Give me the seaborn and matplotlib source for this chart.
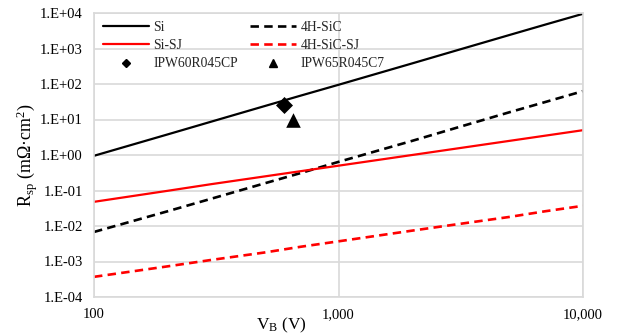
import numpy as np
import pandas as pd
import matplotlib
matplotlib.use("Agg")
import matplotlib.pyplot as plt
from matplotlib.ticker import FuncFormatter, FixedLocator, NullLocator
from matplotlib.lines import Line2D
import seaborn as sns

# Breakdown voltage (V) and specific on-resistance (mOhm*cm^2) per technology
volts = [100, 200, 300, 500, 700, 1000, 2000, 3000, 5000, 7000, 10000]
r_si = [0.95, 3.8, 8.6, 24, 47, 95, 380, 860, 2400, 4700, 9500]
r_sic = [0.0068, 0.026, 0.058, 0.16, 0.31, 0.64, 2.5, 5.7, 16, 31, 63]
r_si_sj = [0.048, 0.098, 0.15, 0.25, 0.35, 0.5, 1.0, 1.5, 2.5, 3.5, 5.0]
r_sic_sj = [0.00037, 0.00073, 0.0011, 0.0018, 0.0026, 0.0037, 0.0074, 0.011, 0.018, 0.026, 0.037]

# Commercial devices
dev_names = ["IPW60R045CP", "IPW65R045C7"]
dev_volts = [600, 650]
dev_rsp = [25, 10]

x_ticks = [100, 1000, 10000]
y_ticks = [1e-4, 1e-3, 1e-2, 1e-1, 1e0, 1e1, 1e2, 1e3, 1e4]

sns.set_theme(style="white")
plt.rcParams["font.family"] = ["Liberation Serif", "DejaVu Serif"]
plt.rcParams["mathtext.fontset"] = "custom"
plt.rcParams["mathtext.rm"] = "Liberation Serif"
plt.rcParams["mathtext.it"] = "Liberation Serif"

fig = plt.figure(figsize=(6.18, 3.36), dpi=100)
ax = fig.add_axes([94 / 618, 1 - 297 / 336, 489 / 618, 284 / 336])

df = pd.DataFrame({
    "V": volts * 4,
    "R": r_si + r_sic + r_si_sj + r_sic_sj,
    "tech": ["Si"] * 11 + ["4H-SiC"] * 11 + ["Si-SJ"] * 11 + ["4H-SiC-SJ"] * 11,
})

styles = {
    "Si": ("black", "-"),
    "4H-SiC": ("black", "--"),
    "Si-SJ": ("#ff0000", "-"),
    "4H-SiC-SJ": ("#ff0000", "--"),
}
dash = (3.2, 2.0)
handles = {}
for name, (col, ls) in styles.items():
    sub = df[df["tech"] == name]
    lw = 1.6 if ls == "-" else 1.9
    sns.lineplot(data=sub, x="V", y="R", ax=ax, color=col, linewidth=lw,
                 legend=False, sort=True, estimator=None)
    line = ax.lines[-1]
    h = Line2D([], [], color=col, linewidth=lw)
    if ls == "--":
        line.set_dashes(dash)
        h.set_dashes(dash)
    handles[name] = h

dev_df = pd.DataFrame({"V": dev_volts, "R": dev_rsp, "dev": dev_names})
sns.scatterplot(data=dev_df.iloc[[0]], x="V", y="R", ax=ax, marker="D", s=75,
                color="black", edgecolor="black", linewidth=0, legend=False, zorder=5)
sns.scatterplot(data=dev_df.iloc[[1]], x="V", y="R", ax=ax, marker="^", s=110,
                color="black", edgecolor="black", linewidth=0, legend=False, zorder=5)
handles[dev_names[0]] = Line2D([], [], color="black", marker="D", linestyle="none", markersize=4.5)
handles[dev_names[1]] = Line2D([], [], color="black", marker="^", linestyle="none", markersize=5.5)

ax.set_xscale("log")
ax.set_yscale("log")
ax.set_xlim(100, 10000)
ax.set_ylim(1e-4, 1e4)
ax.xaxis.set_major_locator(FixedLocator(x_ticks))
ax.yaxis.set_major_locator(FixedLocator(y_ticks))
ax.xaxis.set_minor_locator(NullLocator())
ax.yaxis.set_minor_locator(NullLocator())
ax.xaxis.set_major_formatter(FuncFormatter(lambda v, p: f"{int(round(v)):,}"))
ax.yaxis.set_major_formatter(FuncFormatter(lambda v, p: "1.E{:+03d}".format(int(round(np.log10(v))))))
ax.tick_params(axis="both", length=0, labelsize=10.5, colors="black")
ax.tick_params(axis="y", pad=8)
ax.tick_params(axis="x", pad=8)

grid_col = "#d9d9d9"
ax.grid(True, which="major", color=grid_col, linewidth=1.2)
ax.set_axisbelow(True)
for s in ax.spines.values():
    s.set_color(grid_col)
    s.set_linewidth(1.2)

ax.set_xlabel(r"V$_\mathrm{B}$ (V)", fontsize=12.5, color="black")
ax.xaxis.set_label_coords(0.383, -0.066)
ax.set_ylabel(r"R$_\mathrm{sp}$ (m$\Omega$·cm$^2$)", fontsize=13, color="black")
ax.yaxis.set_label_coords(-0.11, 0.5)

order = ["Si", "Si-SJ", dev_names[0], "4H-SiC", "4H-SiC-SJ", dev_names[1]]
ax.legend([handles[k] for k in order], order, ncol=2, frameon=False, fontsize=9.8,
          loc="upper left", bbox_to_anchor=(-0.004, 1.01), handlelength=3.4,
          handletextpad=0.3, columnspacing=0.9, labelspacing=0.38, borderaxespad=0.4)

fig.savefig("out.png", dpi=100)
